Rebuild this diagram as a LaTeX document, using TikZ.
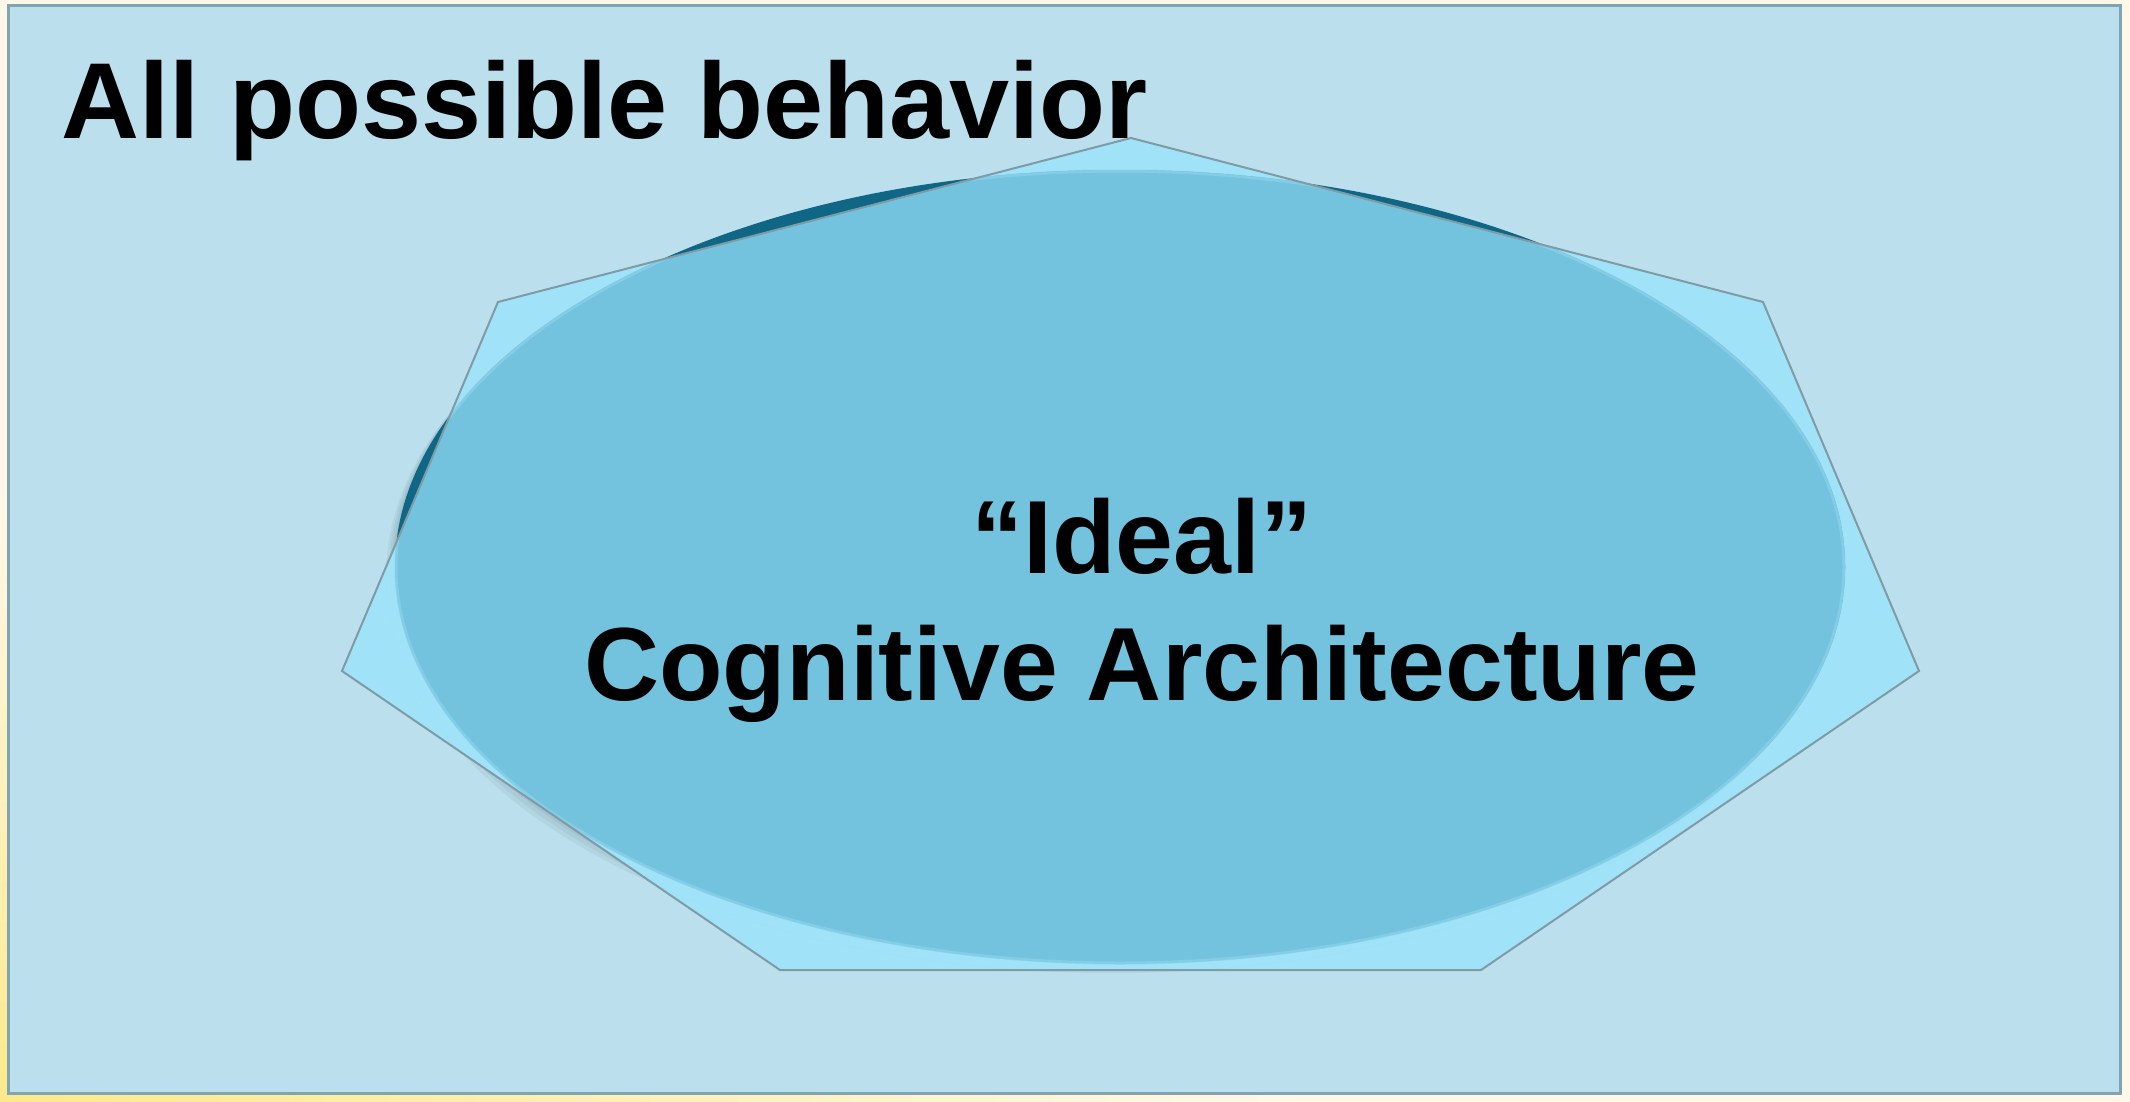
\documentclass[tikz,border=0pt]{standalone}
\usepackage{fontspec}
\setmainfont{Liberation Sans}
\usetikzlibrary{calc}

\definecolor{pagecream}{HTML}{FFF8E8}
\definecolor{pageyellow}{HTML}{FDE98C}
\definecolor{spacefill}{HTML}{BBDFED}
\definecolor{spaceline}{HTML}{7FA5B2}
\definecolor{heptfill}{HTML}{A0E3F8}
\definecolor{heptline}{HTML}{7F9BA5}
\definecolor{archfill}{HTML}{74C3DE}
\definecolor{archrim}{HTML}{8CD2EB}
\definecolor{archdark}{HTML}{0F6785}

\begin{document}
\begin{tikzpicture}[
  x=0.5pt, y=-0.5pt,
  space/.style={fill=spacefill, draw=spaceline, line width=1.5pt},
  hept/.style={draw=heptline, line width=1pt, line join=miter},
  title/.style={font=\fontsize{54}{60}\selectfont\bfseries, text=black, inner sep=0pt},
  core/.style={font=\fontsize{52}{56}\selectfont\bfseries, text=black, inner sep=0pt},
]
\useasboundingbox (0,0) rectangle (2130,1102);

% page
\fill[pagecream] (0,0) rectangle (2130,1102);
\shade[left color=pageyellow, right color=pagecream] (0,1092) rectangle (1300,1102);
\shade[top color=pagecream, bottom color=pageyellow] (0,500) rectangle (9,1102);

% behavior space
\draw[space] (8,6) rectangle (2120,1093);

% heptagon corners
\foreach \name/\px/\py in {h1/1131/138, h2/1763/302, h3/1919/671,
    h4/1481/970, h5/780/970, h6/342/671, h7/498/302}
  \coordinate (\name) at (\px,\py);
\coordinate (mid) at (1120,567);

\fill[heptfill] (h1) -- (h2) -- (h3) -- (h4) -- (h5) -- (h6) -- (h7) -- cycle;

% soft shadow under the ellipse
\foreach \d in {3,6,9}
  \fill[black, opacity=0.045] ($(mid)+(-\d,\d)$) ellipse [x radius=725, y radius=397];

% ideal architecture
\fill[archdark] (mid) ellipse [x radius=725, y radius=397];
\begin{scope}
  \clip (h1) -- (h2) -- (h3) -- (h4) -- (h5) -- (h6) -- (h7) -- cycle;
  \fill[heptfill] ($(mid)+(-9,9)$) ellipse [x radius=725, y radius=397];
  \fill[archfill] (mid) ellipse [x radius=725, y radius=397];
  \draw[archrim, line width=1.5pt, opacity=0.7] (mid) ellipse [x radius=724, y radius=396];
\end{scope}

\draw[hept] (h1) -- (h2) -- (h3) -- (h4) -- (h5) -- (h6) -- (h7) -- cycle;

% labels
\node[title, anchor=base west] (behavior) at (61,139) {All possible behavior};
\node[core, anchor=base] (ideal) at (1142,573) {“Ideal”};
\node[core, anchor=base] (arch) at (1142,700) {Cognitive Architecture};

\end{tikzpicture}
\end{document}
